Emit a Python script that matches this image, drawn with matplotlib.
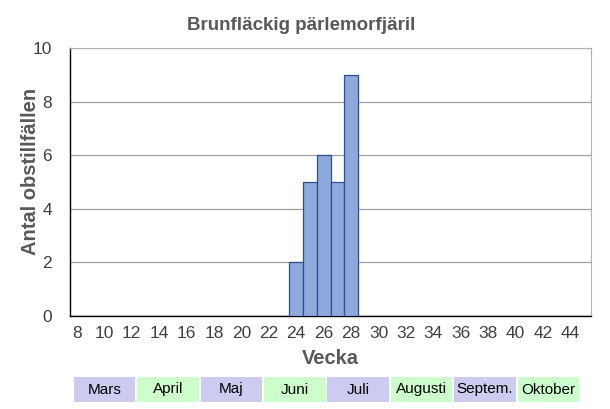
import numpy as np
import matplotlib
matplotlib.use("Agg")
import matplotlib.pyplot as plt

plt.rcParams["font.family"] = ["Liberation Sans", "DejaVu Sans"]

# Donnees
weeks = list(range(8, 46))
counts = [0] * len(weeks)
obs = {24: 2, 25: 5, 26: 6, 27: 5, 28: 9}
for w, c in obs.items():
    counts[weeks.index(w)] = c

month_names = ["Mars", "April", "Maj", "Juni", "Juli", "Augusti", "Septem.", "Oktober"]
month_colors = ["#ccccf0", "#ccffcc", "#ccccf0", "#ccffcc",
                "#ccccf0", "#ccffcc", "#ccccf0", "#ccffcc"]

title = "Brunfläckig pärlemorfjäril"

fig = plt.figure(figsize=(6.10, 4.09), dpi=100)
ax = fig.add_axes([70 / 610, 1 - 316 / 409, 521 / 610, 268 / 409])

ax.bar(weeks, counts, width=1.0, color="#8eaadc", edgecolor="#2f4f8f", linewidth=0.9, zorder=3)
ax.set_xlim(7.5, 45.5)
ax.set_ylim(0, 10)
ax.set_yticks(range(0, 11, 2))
ax.set_xticks(range(8, 46, 2))
ax.tick_params(axis="both", length=0, labelsize=12.5, colors="#404040")
ax.tick_params(axis="x", pad=7)
ax.tick_params(axis="y", pad=13)
ax.yaxis.grid(True, color="#a0a0a0", linewidth=0.9, zorder=0)
for s in ["top", "right"]:
    ax.spines[s].set_color("#b0b0b0")
for s in ["left", "bottom"]:
    ax.spines[s].set_color("#000000")
    ax.spines[s].set_linewidth(1.0)

ax.set_xlabel("Vecka", fontsize=14.5, fontweight="bold", color="#595959", labelpad=6)
ax.set_ylabel("Antal obstillfällen", fontsize=14.5, fontweight="bold", color="#595959")
ax.yaxis.set_label_coords(-0.058, 0.54)
fig.text(301 / 610, 1 - 25 / 409, title, ha="center", va="center",
         fontsize=13.5, fontweight="bold", color="#595959")

# Bandeau des mois
axm = fig.add_axes([73 / 610, 1 - 402 / 409, 507 / 610, 25 / 409])
axm.set_xlim(0, len(month_names))
axm.set_ylim(0, 1)
axm.axis("off")
for i, (name, col) in enumerate(zip(month_names, month_colors)):
    axm.bar(i + 0.5, 1, width=0.97, color=col, edgecolor="none")
    axm.text(i + 0.5, 0.5, name, ha="center", va="center", fontsize=11, color="#000000")

plt.savefig("out.png", dpi=100)
plt.close()
